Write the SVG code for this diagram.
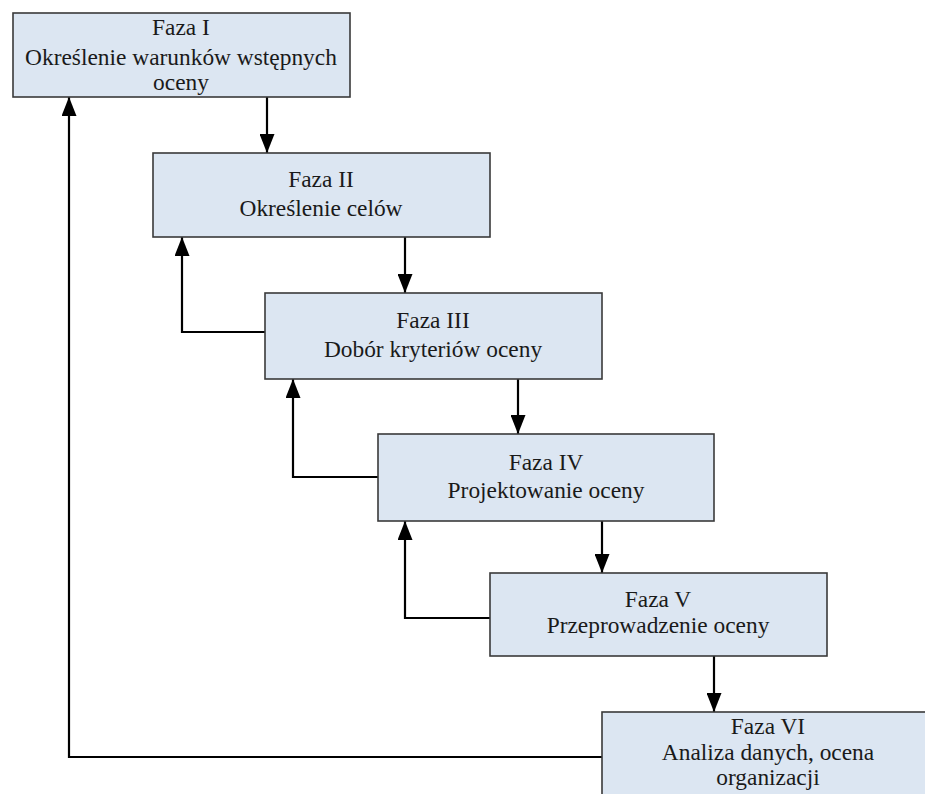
<svg xmlns="http://www.w3.org/2000/svg" width="925" height="794" viewBox="0 0 925 794">
<style>
.box{fill:#dce6f2;stroke:#3a3a3a;stroke-width:1.6}
.t{font-family:"Liberation Serif","Times New Roman",serif;font-size:23.4px;fill:#1a1a1a;text-anchor:middle}
.c{fill:none;stroke:#000;stroke-width:2.2;marker-end:url(#ah)}
</style>
<defs>
<marker id="ah" markerUnits="userSpaceOnUse" markerWidth="19" markerHeight="15" refX="19" refY="7.5" orient="auto" viewBox="0 0 19 15">
<path d="M0 0 L19 7.5 L0 15 Z" fill="#000"/>
</marker>
</defs>
<rect width="925" height="794" fill="#fff"/>
<g id="connectors">
<path class="c" d="M267 97 V153"/>
<path class="c" d="M405 237 V293"/>
<path class="c" d="M518 379 V434"/>
<path class="c" d="M602 521 V573"/>
<path class="c" d="M714 656 V712"/>
<path class="c" d="M265 332 H182 V237"/>
<path class="c" d="M378 477 H293 V379"/>
<path class="c" d="M490 618 H405 V521"/>
<path class="c" d="M602 757 H69 V97"/>
</g>
<g id="faza1">
<rect class="box" x="13" y="13" width="337" height="84"/>
<text class="t" x="181" y="35">Faza I</text>
<text class="t" x="181" y="65">Określenie warunków wstępnych</text>
<text class="t" x="181" y="90">oceny</text>
</g>
<g id="faza2">
<rect class="box" x="153" y="153" width="337" height="84"/>
<text class="t" x="321" y="187">Faza II</text>
<text class="t" x="321" y="216">Określenie celów</text>
</g>
<g id="faza3">
<rect class="box" x="265" y="293" width="337" height="86"/>
<text class="t" x="433" y="328">Faza III</text>
<text class="t" x="433" y="357">Dobór kryteriów oceny</text>
</g>
<g id="faza4">
<rect class="box" x="378" y="434" width="336" height="87"/>
<text class="t" x="546" y="470">Faza IV</text>
<text class="t" x="546" y="498">Projektowanie oceny</text>
</g>
<g id="faza5">
<rect class="box" x="490" y="573" width="337" height="83"/>
<text class="t" x="658" y="607">Faza V</text>
<text class="t" x="658" y="633">Przeprowadzenie oceny</text>
</g>
<g id="faza6">
<rect class="box" x="602" y="712" width="337" height="90"/>
<text class="t" x="768" y="734">Faza VI</text>
<text class="t" x="768" y="760">Analiza danych, ocena</text>
<text class="t" x="768" y="785">organizacji</text>
</g>
</svg>
